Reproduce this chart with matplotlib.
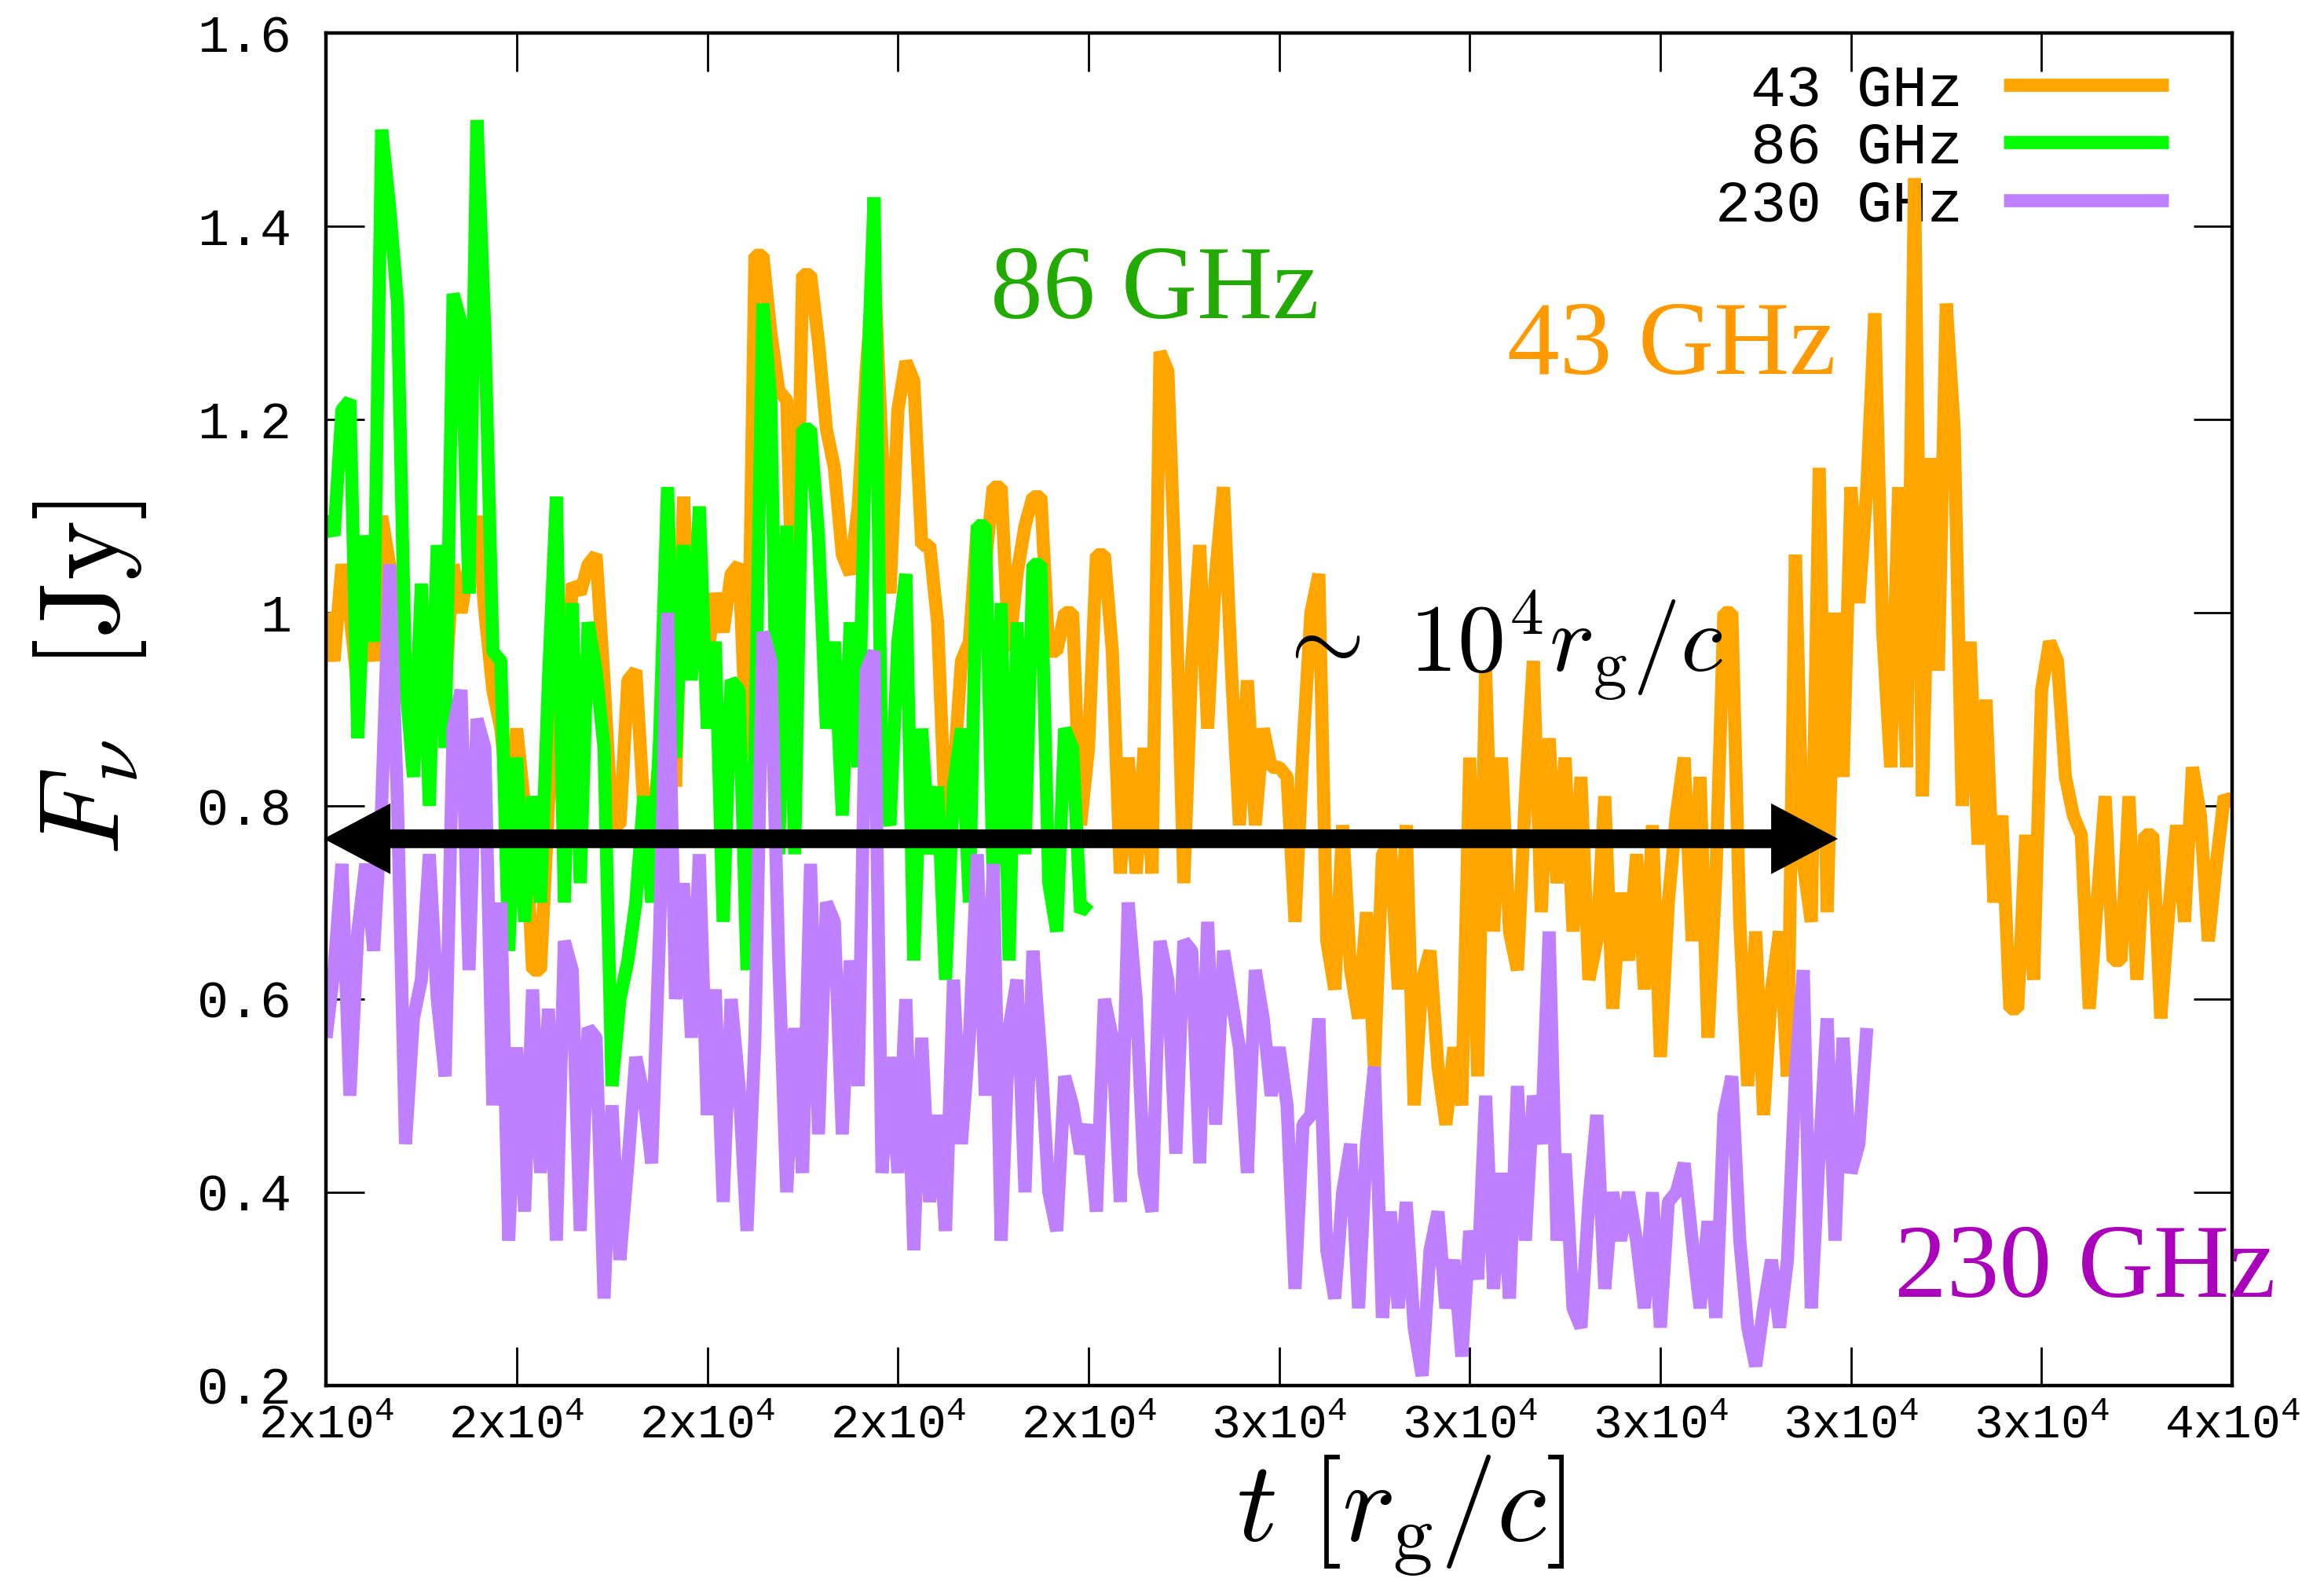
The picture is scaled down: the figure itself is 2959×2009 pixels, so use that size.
import numpy as np
import matplotlib
matplotlib.use("Agg")
import matplotlib.pyplot as plt

# ---------------- data ----------------
t_start, t_end, n_grid = 16000, 36000, 241

f43 = [1.00,0.95,1.05,1.00,0.92,1.00,0.95,1.10,1.05,1.00,
       0.92,0.88,0.95,0.88,0.98,0.92,1.05,1.00,1.05,1.10,
       1.00,0.92,0.88,0.80,0.88,0.80,0.63,0.63,0.80,0.90,
       0.88,1.03,1.02,1.05,1.06,0.93,0.78,0.78,0.93,0.94,
       0.80,0.78,0.85,1.00,0.82,1.12,0.95,1.02,0.95,1.02,
       0.98,1.04,1.05,0.85,1.37,1.37,1.29,1.23,1.22,0.93,
       1.35,1.35,1.28,1.19,1.15,1.06,1.04,1.11,1.25,1.36,
       1.17,1.02,1.21,1.26,1.24,1.07,1.07,0.99,0.78,0.83,
       0.95,0.97,1.09,1.05,1.13,1.13,0.96,1.04,1.09,1.12,
       1.12,0.96,0.96,1.00,1.00,0.78,0.86,1.06,1.06,0.96,
       0.73,0.85,0.73,0.86,0.73,1.27,1.25,1.02,0.72,0.95,
       1.07,0.88,1.04,1.13,0.94,0.78,0.93,0.78,0.88,0.84,
       0.84,0.83,0.68,0.86,1.00,1.04,0.66,0.61,0.78,0.63,
       0.58,0.69,0.53,0.75,0.76,0.61,0.78,0.49,0.62,0.65,
       0.53,0.47,0.55,0.49,0.85,0.52,0.94,0.67,0.85,0.67,
       0.63,0.81,0.95,0.69,0.87,0.72,0.85,0.67,0.83,0.62,
       0.66,0.81,0.59,0.71,0.64,0.75,0.61,0.78,0.54,0.70,
       0.79,0.85,0.66,0.83,0.56,0.73,1.00,1.00,0.68,0.51,
       0.67,0.48,0.61,0.67,0.52,1.06,0.74,0.68,1.15,0.69,
       1.00,0.83,1.13,1.01,1.13,1.31,0.98,0.84,1.13,0.84,
       1.45,0.81,1.16,0.94,1.32,1.19,0.80,0.97,0.76,0.91,
       0.70,0.79,0.59,0.59,0.77,0.62,0.92,0.97,0.95,0.83,
       0.79,0.77,0.59,0.70,0.81,0.64,0.64,0.81,0.62,0.77,
       0.77,0.58,0.69,0.78,0.68,0.84,0.79,0.66,0.74,0.81,
       0.80]

f86 = [1.10,1.08,1.21,1.22,0.87,1.08,0.97,1.50,1.42,1.32,
       0.93,0.83,1.03,0.80,1.07,0.86,1.33,1.30,1.02,1.51,
       1.29,0.96,0.95,0.65,0.85,0.68,0.81,0.70,0.93,1.12,
       0.70,1.01,0.72,0.99,0.94,0.86,0.51,0.60,0.64,0.70,
       0.81,0.70,0.87,1.13,0.85,1.07,0.93,1.11,0.88,0.97,
       0.68,0.93,0.92,0.63,0.86,1.32,1.22,0.75,1.09,0.75,
       1.19,1.19,1.08,0.88,0.97,0.79,0.99,0.84,1.20,1.43,
       0.81,0.78,0.97,1.04,0.64,0.88,0.75,0.82,0.62,0.82,
       0.88,0.70,1.09,1.09,0.72,1.01,0.64,0.99,0.75,1.05,
       1.05,0.72,0.67,0.88,0.86,0.69,0.70]

f230 = [0.56,0.63,0.74,0.50,0.67,0.74,0.65,0.80,1.05,0.80,
        0.45,0.58,0.62,0.75,0.60,0.52,0.88,0.92,0.63,0.89,
        0.86,0.49,0.70,0.35,0.55,0.38,0.61,0.42,0.59,0.35,
        0.66,0.63,0.36,0.57,0.56,0.29,0.49,0.33,0.43,0.54,
        0.50,0.43,0.67,1.00,0.60,0.72,0.56,0.75,0.48,0.61,
        0.39,0.60,0.51,0.36,0.56,0.98,0.95,0.64,0.40,0.57,
        0.42,0.74,0.46,0.70,0.68,0.46,0.64,0.51,0.94,0.96,
        0.42,0.54,0.42,0.60,0.34,0.56,0.39,0.48,0.36,0.62,
        0.45,0.56,0.75,0.50,0.74,0.35,0.57,0.62,0.40,0.65,
        0.54,0.40,0.36,0.52,0.49,0.44,0.47,0.38,0.60,0.56,
        0.39,0.70,0.60,0.42,0.38,0.66,0.62,0.44,0.66,0.65,
        0.43,0.68,0.47,0.65,0.60,0.55,0.42,0.63,0.58,0.50,
        0.55,0.49,0.30,0.47,0.48,0.58,0.34,0.29,0.40,0.45,
        0.28,0.45,0.53,0.27,0.38,0.28,0.39,0.26,0.21,0.34,
        0.38,0.28,0.33,0.23,0.36,0.31,0.50,0.30,0.42,0.29,
        0.51,0.35,0.50,0.45,0.67,0.35,0.44,0.28,0.26,0.39,
        0.48,0.30,0.40,0.35,0.40,0.35,0.28,0.40,0.26,0.39,
        0.40,0.43,0.35,0.28,0.37,0.27,0.48,0.52,0.35,0.26,
        0.22,0.28,0.33,0.26,0.33,0.52,0.63,0.28,0.44,0.58,
        0.35,0.56,0.42,0.45,0.57]

series_labels = [" 43 GHz", " 86 GHz", "230 GHz"]
series_colors = ["#ffa500", "#00ff00", "#bf80ff"]

xtick_vals = [16000, 18000, 20000, 22000, 24000, 26000,
              28000, 30000, 32000, 34000, 36000]
xtick_labels = ["2x10$^4$", "2x10$^4$", "2x10$^4$", "2x10$^4$", "2x10$^4$",
                "3x10$^4$", "3x10$^4$", "3x10$^4$", "3x10$^4$", "3x10$^4$",
                "4x10$^4$"]
ytick_vals = [0.2, 0.4, 0.6, 0.8, 1.0, 1.2, 1.4, 1.6]
ytick_labels = ["0.2", "0.4", "0.6", "0.8", "1", "1.2", "1.4", "1.6"]

# annotation anchors (data coords)
arrow_y, arrow_left, arrow_right = 0.766, 15975, 31863

# ---------------- style ----------------
plt.rcParams.update({
    "font.family": ["Liberation Mono", "DejaVu Sans Mono"],
    "mathtext.fontset": "custom",
    "mathtext.rm": "Liberation Mono",
    "mathtext.it": "Liberation Mono:italic",
    "mathtext.bf": "Liberation Mono:bold",
})

fig = plt.figure(figsize=(14.795, 10.045), dpi=200)
ax = fig.add_axes([0.1403, 0.122, 0.8202, 0.857])

t_grid = np.linspace(t_start, t_end, n_grid)
t43 = t_grid[:len(f43)]
t86 = t_grid[:len(f86)]
t230 = t_grid[:len(f230)]

lw = 6.0
for (tt, ff), lab, col, z in zip([(t43, f43), (t86, f86), (t230, f230)],
                                 series_labels, series_colors, [2, 3, 4]):
    ax.plot(tt, ff, color=col, lw=lw, label=lab, zorder=z,
            solid_joinstyle="bevel", solid_capstyle="butt")

ax.set_xlim(t_start, t_end)
ax.set_ylim(0.2, 1.6)
ax.set_xticks(xtick_vals)
ax.set_xticklabels(xtick_labels)
ax.set_yticks(ytick_vals)
ax.set_yticklabels(ytick_labels)
ax.tick_params(direction="in", length=17.6, width=1.0, top=True, right=True,
               color="black")
ax.tick_params(axis="y", labelsize=24, pad=16)
ax.tick_params(axis="x", labelsize=22, pad=8)
for s in ax.spines.values():
    s.set_linewidth(1.6)
    s.set_zorder(6)

ax.set_xlabel(r"$t\ [r_{\mathrm{g}}/c]$", fontsize=52, math_fontfamily="cm")
ax.xaxis.set_label_coords(0.564, -0.050)
ax.set_ylabel(r"$F_{\nu}\ \ [\mathrm{Jy}]$", fontsize=52, math_fontfamily="cm")
ax.yaxis.set_label_coords(-0.093, 0.523)

ax.text(22968, 1.305, "86 GHz", color="#22aa00", fontsize=48,
        family="Liberation Serif", ha="left", va="baseline", zorder=7)
ax.text(28394, 1.247, "43 GHz", color="#ff9900", fontsize=48,
        family="Liberation Serif", ha="left", va="baseline", zorder=7)
ax.text(32457, 0.292, "230 GHz", color="#aa00bb", fontsize=48,
        family="Liberation Serif", ha="left", va="baseline", zorder=7,
        clip_on=False)
ax.text(25940, 0.940, r"$\sim\ 10^{4}r_{\mathrm{g}}/c$", fontsize=44,
        math_fontfamily="cm", ha="left", va="baseline", zorder=7)

mid = 0.5 * (arrow_left + arrow_right)
style = "simple,head_length=30.6,head_width=32.4,tail_width=8.6"
for end in (arrow_left, arrow_right):
    ax.annotate("", xy=(end, arrow_y), xytext=(mid, arrow_y),
                arrowprops=dict(arrowstyle=style, color="black", lw=0,
                                shrinkA=0, shrinkB=0, mutation_scale=1),
                annotation_clip=False, zorder=8)

leg = ax.legend(loc="upper right", bbox_to_anchor=(0.9666, 0.978),
                frameon=False, markerfirst=False, handlelength=2.8,
                handletextpad=0.7, labelspacing=0.06, borderpad=0,
                borderaxespad=0, prop={"family": "Liberation Mono", "size": 27})
leg.set_zorder(1)

fig.savefig("out.png", dpi=200, facecolor="white")
